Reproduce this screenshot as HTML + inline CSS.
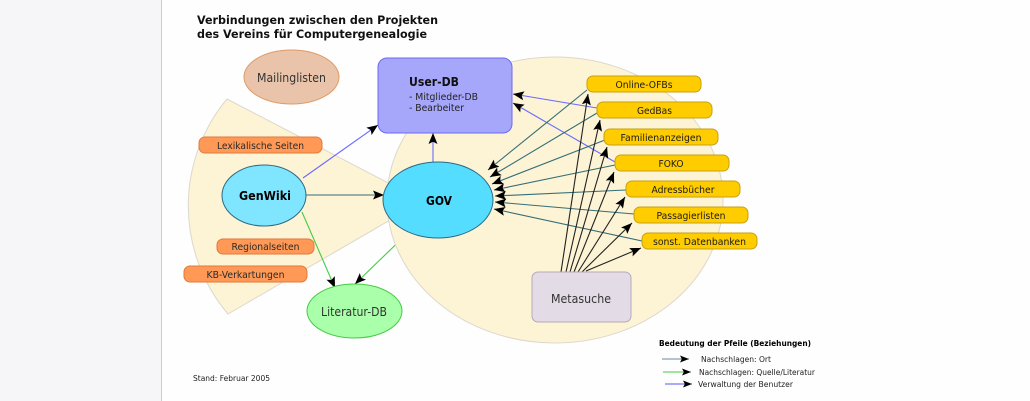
<!DOCTYPE html>
<html><head><meta charset="utf-8"><style>
html,body{margin:0;padding:0;}
body{width:1030px;height:401px;overflow:hidden;background:#fefefe;position:relative;font-family:"DejaVu Sans","Liberation Sans",sans-serif;}
#side{position:absolute;left:0;top:0;width:161px;height:401px;background:#f6f6f9;border-right:1px solid #a7d7f9;}
svg{position:absolute;left:0;top:0;}
</style></head><body>
<div id="side"></div>
<svg width="1030" height="401" viewBox="0 0 1030 401" xmlns="http://www.w3.org/2000/svg" font-family="DejaVu Sans, Liberation Sans, sans-serif">
<defs>
<marker id="a" markerWidth="11" markerHeight="9" refX="11" refY="4.5" orient="auto" markerUnits="userSpaceOnUse"><path d="M0,0 L11,4.5 L0,9 L2.2,4.5 z" fill="#000"/></marker>
<marker id="s" markerWidth="9" markerHeight="7" refX="9" refY="3.5" orient="auto" markerUnits="userSpaceOnUse"><path d="M0,0 L9,3.5 L0,7 L1.8,3.5 z" fill="#000"/></marker>
</defs>
<!-- title -->
<text x="197" y="24" font-size="11.5" font-weight="bold" fill="#111" textLength="241" lengthAdjust="spacingAndGlyphs">Verbindungen zwischen den Projekten</text>
<text x="197" y="38" font-size="11.5" font-weight="bold" fill="#111" textLength="230" lengthAdjust="spacingAndGlyphs">des Vereins für Computergenealogie</text>

<!-- wedge -->
<path d="M423,201 L227,99 A167,167 0 0 0 228,314 Z" fill="#fdf3d5" stroke="#dcd8cc" stroke-width="1"/>
<!-- hidden green line GOV->Lit -->
<line x1="415" y1="226" x2="355" y2="284" stroke="#44cc44" stroke-width="1.1" marker-end="url(#a)"/>
<!-- big circle -->
<ellipse cx="555" cy="200" rx="168" ry="143" fill="#fdf3d5" stroke="#dcd8cc" stroke-width="1"/>

<!-- Mailinglisten -->
<ellipse cx="291.5" cy="77" rx="47.5" ry="27" fill="#e9c4aa" stroke="#e09a66" stroke-width="1"/>
<text x="291.5" y="82" font-size="12" fill="#333" text-anchor="middle" textLength="69" lengthAdjust="spacingAndGlyphs">Mailinglisten</text>

<!-- lines -->
<g stroke-width="1.1" fill="none">
<line x1="306" y1="195" x2="384" y2="195" stroke="#336e78" marker-end="url(#a)"/>
<line x1="303" y1="178" x2="378" y2="125" stroke="#6a6aff" marker-end="url(#a)"/>
<line x1="433" y1="162" x2="433" y2="133" stroke="#6a6aff" marker-end="url(#a)"/>
<line x1="597" y1="108" x2="513" y2="94" stroke="#6a6aff" marker-end="url(#a)"/>
<line x1="615" y1="162" x2="513" y2="103" stroke="#6a6aff" marker-end="url(#a)"/>
<line x1="302" y1="212" x2="335" y2="288" stroke="#44cc44" marker-end="url(#a)"/>

<line x1="587" y1="90" x2="488" y2="170" stroke="#336e78" marker-end="url(#a)"/>
<line x1="597" y1="113" x2="490" y2="177" stroke="#336e78" marker-end="url(#a)"/>
<line x1="605" y1="140" x2="492" y2="184" stroke="#336e78" marker-end="url(#a)"/>
<line x1="615" y1="165" x2="494" y2="190" stroke="#336e78" marker-end="url(#a)"/>
<line x1="626" y1="190" x2="495" y2="196" stroke="#336e78" marker-end="url(#a)"/>
<line x1="634" y1="214" x2="495" y2="202" stroke="#336e78" marker-end="url(#a)"/>
<line x1="642" y1="241" x2="494" y2="209" stroke="#336e78" marker-end="url(#a)"/>

<line x1="561" y1="272" x2="588" y2="94" stroke="#222" marker-end="url(#a)"/>
<line x1="566" y1="272" x2="600" y2="120" stroke="#222" marker-end="url(#a)"/>
<line x1="570" y1="272" x2="607" y2="147" stroke="#222" marker-end="url(#a)"/>
<line x1="574" y1="272" x2="614" y2="172" stroke="#222" marker-end="url(#a)"/>
<line x1="578" y1="272" x2="625" y2="197" stroke="#222" marker-end="url(#a)"/>
<line x1="582" y1="272" x2="632" y2="223" stroke="#222" marker-end="url(#a)"/>
<line x1="586" y1="271" x2="641" y2="248" stroke="#222" marker-end="url(#a)"/>
</g>

<!-- User-DB -->
<rect x="378" y="58" width="134" height="75" rx="9" fill="#a6a6fa" stroke="#6a6af5" stroke-width="1"/>
<text x="409" y="86" font-size="12.5" font-weight="bold" fill="#111" textLength="50" lengthAdjust="spacingAndGlyphs">User-DB</text>
<text x="409" y="100" font-size="10" fill="#222" textLength="69" lengthAdjust="spacingAndGlyphs">- Mitglieder-DB</text>
<text x="409" y="111" font-size="10" fill="#222" textLength="55" lengthAdjust="spacingAndGlyphs">- Bearbeiter</text>

<!-- orange pills -->
<rect x="199" y="137" width="123" height="16" rx="6" fill="#ff9955" stroke="#e07a3a" stroke-width="1"/>
<text x="260.5" y="149" font-size="10" fill="#2a2a2a" text-anchor="middle" textLength="87" lengthAdjust="spacingAndGlyphs">Lexikalische Seiten</text>
<rect x="217" y="239" width="97" height="15" rx="6" fill="#ff9955" stroke="#e07a3a" stroke-width="1"/>
<text x="265.5" y="250" font-size="10" fill="#2a2a2a" text-anchor="middle" textLength="68" lengthAdjust="spacingAndGlyphs">Regionalseiten</text>
<rect x="184" y="266" width="123" height="16" rx="6" fill="#ff9955" stroke="#e07a3a" stroke-width="1"/>
<text x="245.5" y="278" font-size="10" fill="#2a2a2a" text-anchor="middle" textLength="78" lengthAdjust="spacingAndGlyphs">KB-Verkartungen</text>

<!-- GenWiki -->
<ellipse cx="264" cy="195.5" rx="42" ry="30.5" fill="#80e5ff" stroke="#2d6a85" stroke-width="1"/>
<text x="265" y="200" font-size="12" font-weight="bold" fill="#000" text-anchor="middle" textLength="52" lengthAdjust="spacingAndGlyphs">GenWiki</text>

<!-- GOV -->
<ellipse cx="438" cy="200" rx="55" ry="38" fill="#55ddff" stroke="#2d6a85" stroke-width="1"/>
<text x="439" y="205" font-size="12.5" font-weight="bold" fill="#000" text-anchor="middle" textLength="26" lengthAdjust="spacingAndGlyphs">GOV</text>

<!-- Literatur-DB -->
<ellipse cx="354.5" cy="311" rx="47.5" ry="27" fill="#aaffaa" stroke="#44cc44" stroke-width="1"/>
<text x="354" y="316" font-size="12" fill="#333" text-anchor="middle" textLength="66" lengthAdjust="spacingAndGlyphs">Literatur-DB</text>

<!-- Metasuche -->
<rect x="532" y="272" width="99" height="50" rx="6" fill="#e3dbe6" stroke="#b8a8b8" stroke-width="1"/>
<text x="581" y="303" font-size="12" fill="#333" text-anchor="middle" textLength="60" lengthAdjust="spacingAndGlyphs">Metasuche</text>

<!-- yellow pills -->
<g fill="#ffcc00" stroke="#c8a010" stroke-width="1">
<rect x="587" y="76" width="114" height="16" rx="6"/>
<rect x="597" y="102" width="115" height="16" rx="6"/>
<rect x="604" y="129" width="114" height="16" rx="6"/>
<rect x="615" y="155" width="114" height="16" rx="6"/>
<rect x="626" y="181" width="114" height="16" rx="6"/>
<rect x="634" y="207" width="114" height="16" rx="6"/>
<rect x="642" y="233" width="115" height="16" rx="6"/>
</g>
<g font-size="10" fill="#1a1a1a" text-anchor="middle">
<text x="644" y="88" textLength="57" lengthAdjust="spacingAndGlyphs">Online-OFBs</text>
<text x="654.5" y="114" textLength="35" lengthAdjust="spacingAndGlyphs">GedBas</text>
<text x="661" y="141" textLength="81" lengthAdjust="spacingAndGlyphs">Familienanzeigen</text>
<text x="671" y="167" textLength="25" lengthAdjust="spacingAndGlyphs">FOKO</text>
<text x="683" y="193" textLength="63" lengthAdjust="spacingAndGlyphs">Adressbücher</text>
<text x="691" y="219" textLength="69" lengthAdjust="spacingAndGlyphs">Passagierlisten</text>
<text x="699.5" y="245" textLength="93" lengthAdjust="spacingAndGlyphs">sonst. Datenbanken</text>
</g>

<!-- legend -->
<text x="659" y="346" font-size="7.5" font-weight="bold" fill="#000" textLength="152" lengthAdjust="spacingAndGlyphs">Bedeutung der Pfeile (Beziehungen)</text>
<line x1="662" y1="359" x2="689" y2="359" stroke="#6d87a6" stroke-width="1" marker-end="url(#s)"/>
<text x="701" y="362" font-size="7.5" fill="#222" textLength="70" lengthAdjust="spacingAndGlyphs">Nachschlagen: Ort</text>
<line x1="663" y1="372" x2="691" y2="372" stroke="#44cc44" stroke-width="1" marker-end="url(#s)"/>
<text x="699" y="375" font-size="7.5" fill="#222" textLength="116" lengthAdjust="spacingAndGlyphs">Nachschlagen: Quelle/Literatur</text>
<line x1="665" y1="384" x2="692" y2="384" stroke="#5555ee" stroke-width="1" marker-end="url(#s)"/>
<text x="698" y="387" font-size="7.5" fill="#222" textLength="95" lengthAdjust="spacingAndGlyphs">Verwaltung der Benutzer</text>

<text x="193" y="381" font-size="7.5" fill="#222" textLength="77" lengthAdjust="spacingAndGlyphs">Stand: Februar 2005</text>
</svg>
</body></html>
